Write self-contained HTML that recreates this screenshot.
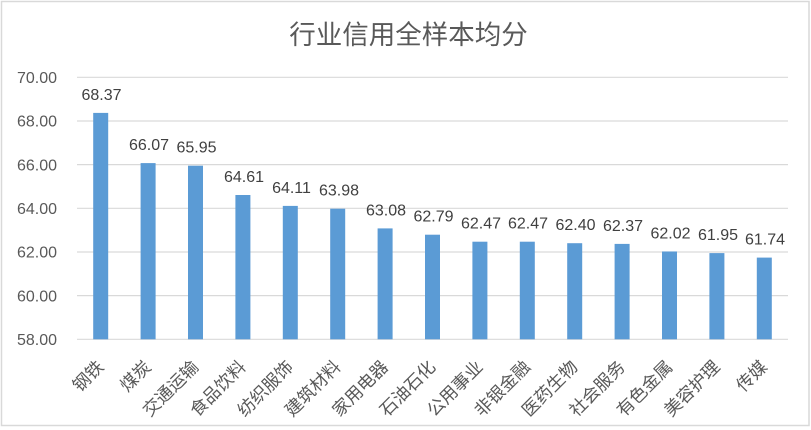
<!DOCTYPE html>
<html>
<head>
<meta charset="utf-8">
<style>
html,body{margin:0;padding:0;background:#fff;}
svg{display:block;}
text{font-family:"Liberation Sans","Noto Sans CJK SC",sans-serif;}
</style>
</head>
<body>
<svg width="811" height="430" viewBox="0 0 811 430" xmlns="http://www.w3.org/2000/svg">
<rect x="0" y="0" width="811" height="430" fill="#fff"/>
<rect x="1.5" y="1.5" width="807.5" height="424" fill="#fff" stroke="#d9d9d9" stroke-width="1.5"/>
<text x="408.5" y="44" text-anchor="middle" font-size="26.5" fill="#595959">行业信用全样本均分</text>
<g stroke="#d9d9d9" stroke-width="1.2">
<line x1="77" x2="788" y1="77.3" y2="77.3"/>
<line x1="77" x2="788" y1="121.0" y2="121.0"/>
<line x1="77" x2="788" y1="164.6" y2="164.6"/>
<line x1="77" x2="788" y1="208.3" y2="208.3"/>
<line x1="77" x2="788" y1="252.0" y2="252.0"/>
<line x1="77" x2="788" y1="295.6" y2="295.6"/>
<line x1="77" x2="788" y1="339.3" y2="339.3"/>
</g>
<g font-size="16" fill="#595959" text-anchor="end">
<text x="57" y="83">70.00</text>
<text x="57" y="126.7">68.00</text>
<text x="57" y="170.3">66.00</text>
<text x="57" y="214">64.00</text>
<text x="57" y="257.7">62.00</text>
<text x="57" y="301.3">60.00</text>
<text x="57" y="345">58.00</text>
</g>
<g fill="#5b9bd5">
<rect x="93.2" y="112.9" width="15" height="226.4"/>
<rect x="140.6" y="163.1" width="15" height="176.2"/>
<rect x="188.0" y="165.7" width="15" height="173.6"/>
<rect x="235.4" y="195.0" width="15" height="144.3"/>
<rect x="282.8" y="205.9" width="15" height="133.4"/>
<rect x="330.2" y="208.7" width="15" height="130.6"/>
<rect x="377.6" y="228.4" width="15" height="110.9"/>
<rect x="425.0" y="234.7" width="15" height="104.6"/>
<rect x="472.4" y="241.7" width="15" height="97.6"/>
<rect x="519.8" y="241.7" width="15" height="97.6"/>
<rect x="567.2" y="243.2" width="15" height="96.1"/>
<rect x="614.6" y="243.9" width="15" height="95.4"/>
<rect x="662.0" y="251.5" width="15" height="87.8"/>
<rect x="709.4" y="253.1" width="15" height="86.2"/>
<rect x="756.8" y="257.6" width="15" height="81.7"/>
</g>
<g font-size="16" fill="#404040" text-anchor="middle">
<text x="101.5" y="99.9">68.37</text>
<text x="149" y="150.1">66.07</text>
<text x="196.5" y="152.7">65.95</text>
<text x="244" y="182.0">64.61</text>
<text x="291.5" y="192.9">64.11</text>
<text x="339" y="195.7">63.98</text>
<text x="386" y="215.4">63.08</text>
<text x="433.5" y="221.7">62.79</text>
<text x="481" y="228.7">62.47</text>
<text x="528" y="228.7">62.47</text>
<text x="575.5" y="230.2">62.40</text>
<text x="623" y="230.9">62.37</text>
<text x="670.5" y="238.5">62.02</text>
<text x="718" y="240.1">61.95</text>
<text x="765" y="244.6">61.74</text>
</g>
<g font-size="17.5" fill="#595959" text-anchor="end">
<text transform="translate(104.7,368) rotate(-45)">钢铁</text>
<text transform="translate(152.1,368) rotate(-45)">煤炭</text>
<text transform="translate(199.5,368) rotate(-45)">交通运输</text>
<text transform="translate(246.9,368) rotate(-45)">食品饮料</text>
<text transform="translate(294.3,368) rotate(-45)">纺织服饰</text>
<text transform="translate(341.7,368) rotate(-45)">建筑材料</text>
<text transform="translate(389.1,368) rotate(-45)">家用电器</text>
<text transform="translate(436.5,368) rotate(-45)">石油石化</text>
<text transform="translate(483.9,368) rotate(-45)">公用事业</text>
<text transform="translate(531.3,368) rotate(-45)">非银金融</text>
<text transform="translate(578.7,368) rotate(-45)">医药生物</text>
<text transform="translate(626.1,368) rotate(-45)">社会服务</text>
<text transform="translate(673.5,368) rotate(-45)">有色金属</text>
<text transform="translate(720.9,368) rotate(-45)">美容护理</text>
<text transform="translate(768.3,368) rotate(-45)">传媒</text>
</g>
</svg>
</body>
</html>
